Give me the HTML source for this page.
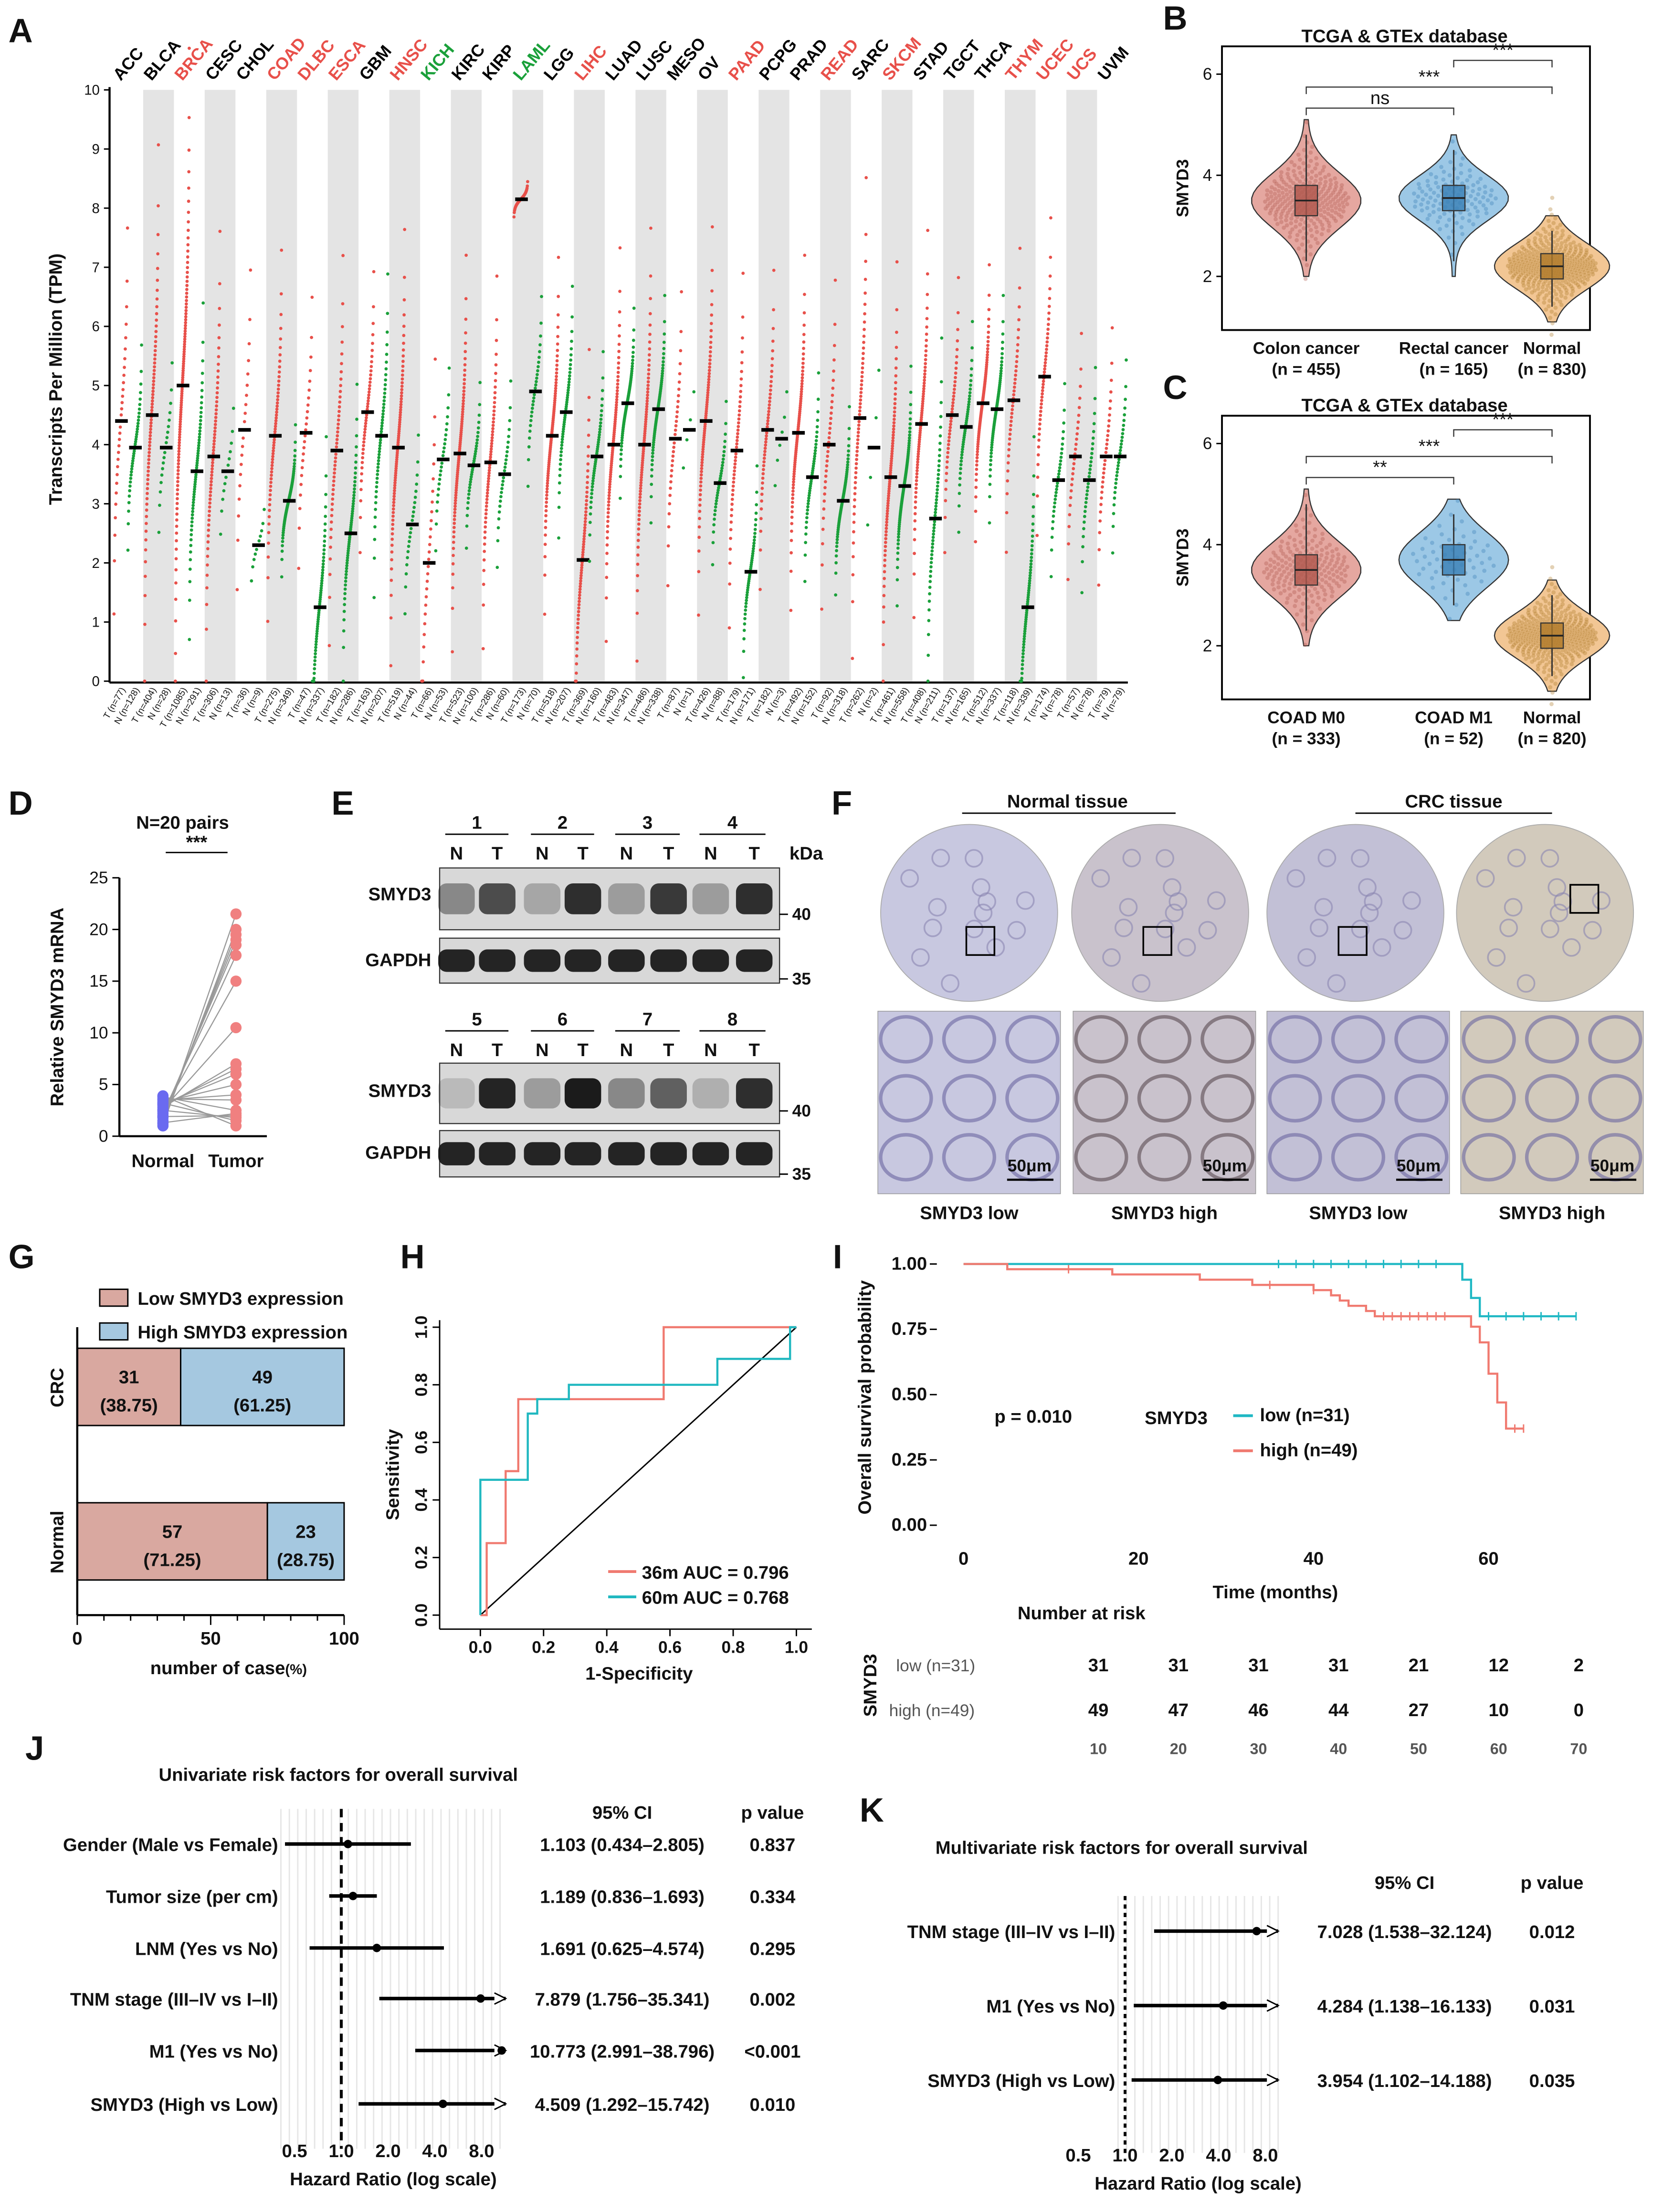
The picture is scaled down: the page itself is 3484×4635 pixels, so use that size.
<!DOCTYPE html>
<html><head><meta charset="utf-8"><style>
html,body{margin:0;padding:0;background:#fff}
svg{display:block;font-family:"Liberation Sans",Arial,sans-serif}
</style></head><body>
<svg id="s" xmlns="http://www.w3.org/2000/svg" width="3484" height="4635" viewBox="0 0 1184 1575" preserveAspectRatio="none"></svg>
<script>
// ---------- Panel A data ----------
const cancers=["ACC","BLCA","BRCA","CESC","CHOL","COAD","DLBC","ESCA","GBM","HNSC","KICH","KIRC","KIRP","LAML","LGG","LIHC","LUAD","LUSC","MESO","OV","PAAD","PCPG","PRAD","READ","SARC","SKCM","STAD","TGCT","THCA","THYM","UCEC","UCS","UVM"];
const cancerColor=["k","k","r","k","k","r","r","r","k","r","g","k","k","g","k","r","k","k","k","k","r","k","k","r","k","r","k","k","k","r","r","r","k"];
const tumorMed=[4.4,4.5,5.0,3.8,4.25,4.15,4.2,3.9,4.55,3.95,2.0,3.85,3.7,8.15,4.15,2.05,4.0,4.0,4.1,4.4,3.9,4.25,4.2,4.0,4.45,3.45,4.35,4.5,4.7,4.75,5.15,3.8,3.8];
const normalMed=[3.95,3.95,3.55,3.55,2.3,3.05,1.25,2.5,4.15,2.65,3.75,3.65,3.5,4.9,4.55,3.8,4.7,4.6,4.25,3.35,1.85,4.1,3.45,3.05,3.95,3.3,2.75,4.3,4.6,1.25,3.4,3.4,3.8];
const tumorSpread=[1.2,1.4,1.6,1.2,1.1,1.0,0.9,1.1,0.8,1.1,1.3,1.0,1.0,0.1,0.9,1.1,1.0,1.1,0.9,1.0,1.0,0.9,0.9,1.0,1.3,1.1,1.0,0.8,0.7,0.9,0.9,0.8,0.8];
const normalSpread=[0.6,0.6,0.9,0.5,0.3,0.4,0.9,0.8,0.9,0.6,0.6,0.5,0.6,0.6,0.7,0.6,0.5,0.6,0.5,0.5,0.6,0.5,0.6,0.5,0.9,0.6,1.0,0.6,0.6,0.9,0.6,0.7,0.6];
const tumorN=[77,404,1085,306,36,275,47,182,163,519,66,523,286,173,518,369,483,486,87,426,179,182,492,92,262,461,408,137,512,118,174,57,79];
const normalN=[128,28,291,13,9,349,337,286,207,44,53,100,60,70,207,160,347,338,1,88,171,3,152,318,2,558,211,165,337,339,78,78,79];
const aTicks=[0,1,2,3,4,5,6,7,8,9,10];
// ---------- Panel B/C data ----------
const bGroups=["Colon cancer","Rectal cancer","Normal"];
const bNs=[455,165,830];
const bMed=[3.5,3.55,2.2];const bQ1=[3.2,3.3,1.95];const bQ3=[3.8,3.8,2.45];const bMin=[2.0,2.0,1.1];const bMax=[5.1,4.8,3.2];
const cGroups=["COAD M0","COAD M1","Normal"];
const cNs=[333,52,820];
const cMed=[3.5,3.7,2.2];const cQ1=[3.2,3.4,1.95];const cQ3=[3.8,4.0,2.45];const cMin=[2.0,2.5,1.1];const cMax=[5.1,4.9,3.3];
const bcTicks=[2,4,6];
// ---------- Panel D data ----------
const dNormal=[1,1.2,1.5,1.8,2,2.2,2.4,2.6,2.8,3,3.1,3.3,3.5,3.6,3.8,1.3,1.9,2.5,3.2,3.9];
const dTumor=[21.5,20,19.5,19,18.5,17.5,15,10.5,7,6.5,6,5,4,3.5,2.5,2.2,2,1.8,1.5,1];
const dTicks=[0,5,10,15,20,25];
// ---------- Panel G data ----------
const gGroups=["CRC","Normal"];const gLowN=[31,57];const gLowPct=[38.75,71.25];const gHighN=[49,23];const gHighPct=[61.25,28.75];
const gTicks=[0,50,100];
// ---------- Panel H data ----------
const roc36x=[0,0.02,0.02,0.08,0.08,0.12,0.12,0.58,0.58,1.0,1.0];
const roc36y=[0,0,0.25,0.25,0.5,0.5,0.75,0.75,1.0,1.0,1.0];
const roc60x=[0,0,0.15,0.15,0.18,0.18,0.28,0.28,0.75,0.75,0.98,0.98,1.0];
const roc60y=[0,0.47,0.47,0.7,0.7,0.75,0.75,0.8,0.8,0.89,0.89,1.0,1.0];
const hTicks=[0,0.2,0.4,0.6,0.8,1.0];
// ---------- Panel I data ----------
const kmLowT=[0,57,57,58,58,59,59,70];
const kmLowS=[1,1,0.94,0.94,0.87,0.87,0.80,0.80];
const kmHighT=[0,5,5,17,17,27,27,33,33,40,40,42,42,43,43,44,44,46,46,47,47,58,58,59,59,60,60,61,61,62,62,64];
const kmHighS=[1,1,0.98,0.98,0.96,0.96,0.94,0.94,0.92,0.92,0.90,0.90,0.88,0.88,0.86,0.86,0.84,0.84,0.82,0.82,0.80,0.80,0.76,0.76,0.70,0.70,0.58,0.58,0.47,0.47,0.37,0.37];
const censLow=[36,38,40,42,44,46,48,50,52,54,60,62,64,66,68,70];
const censHigh=[12,35,40,48,49,50,51,52,53,54,55,63,64];
const iXTicks=[0,20,40,60];const iYTicks=[0,0.25,0.5,0.75,1.0];
const riskTimes=[10,20,30,40,50,60,70];const riskLow=[31,31,31,31,21,12,2];const riskHigh=[49,47,46,44,27,10,0];
// ---------- Panel J/K data ----------
const jLabels=["Gender (Male vs Female)","Tumor size (per cm)","LNM (Yes vs No)","TNM stage (III–IV vs I–II)","M1 (Yes vs No)","SMYD3 (High vs Low)"];
const jHR=[1.103,1.189,1.691,7.879,10.773,4.509];const jLo=[0.434,0.836,0.625,1.756,2.991,1.292];const jHi=[2.805,1.693,4.574,35.341,38.796,15.742];
const jP=["0.837","0.334","0.295","0.002","<0.001","0.010"];
const kLabels=["TNM stage (III–IV vs I–II)","M1 (Yes vs No)","SMYD3 (High vs Low)"];
const kHR=[7.028,4.284,3.954];const kLo=[1.538,1.138,1.102];const kHi=[32.124,16.133,14.188];const kP=["0.012","0.031","0.035"];
const forestTicks=[0.5,1.0,2.0,4.0,8.0];

// ---------- helpers ----------
const S=document.getElementById('s');const NS="http://www.w3.org/2000/svg";
function el(tag,at,parent){const e=document.createElementNS(NS,tag);for(const k in at)e.setAttribute(k,at[k]);(parent||S).appendChild(e);return e;}
function tx(x,y,t,at,parent){const e=el('text',Object.assign({x:x,y:y,'font-size':13,'fill':'#111'},at||{}),parent);e.textContent=t;return e;}
function grp(name){const g=el('g',{});return g;}
function panelLetter(x,y,t){const e=tx(x,y,t,{'font-size':24,'font-weight':'bold'});}
function qz(q){const a=Math.log(q/(1-q));return a*0.5513;}

// ================= Panel A =================
panelLetter(6,30,"A");
(function(){
 const g=grp('panel-a-tpm-chart');
 const x0=80,x1=803,y0=485,ppu=42.1;
 const bw=(x1-x0)/cancers.length;
 const ys=v=>y0-v*ppu;
 cancers.forEach((c,i)=>{
  if(i%2==1){const r=el('rect',{x:x0+i*bw,y:64,width:bw,height:y0-64,fill:'#e4e4e4'},g);}
 });
 el('line',{x1:x0-2,y1:62,x2:x0-2,y2:y0+1,stroke:'#000','stroke-width':1.5},g);
 el('line',{x1:x0-2,y1:y0+1,x2:x1,y2:y0+1,stroke:'#000','stroke-width':1.5},g);
 aTicks.forEach(v=>{el('line',{x1:x0-6,y1:ys(v),x2:x0-2,y2:ys(v),stroke:'#000'},g);const t=tx(x0-9,ys(v)+3.5,String(v),{'font-size':10,'text-anchor':'end'},g);});
 const yt=tx(0,0,"Transcripts Per Million (TPM)",{'font-size':13,'font-weight':'bold','text-anchor':'middle',transform:'translate(44,270) rotate(-90)'},g);
 
 const cols={k:'#000',r:'#e8504a',g:'#1aa03a'};
 cancers.forEach((c,i)=>{
  const bx=x0+i*bw;
  const lab=tx(0,0,c,{'font-size':12,'font-weight':'bold',fill:cols[cancerColor[i]],transform:`translate(${bx+6},58) rotate(-50)`},g);
  
  [[tumorMed[i],tumorSpread[i],'#e8504a',bx+1,'T',tumorN[i]],[normalMed[i],normalSpread[i],'#1aa03a',bx+bw/2,'N',normalN[i]]].forEach((d,k)=>{
   const [m,sp,col,sx,lt,n]=d;const cnt=Math.max(4,Math.min(110,Math.round(Math.sqrt(n)*3.5)));
   const cg=el('g',{fill:col},g);
   for(let j=0;j<cnt;j++){const q=(j+0.5)/cnt;const v=Math.max(0,m+sp*qz(q)*1.2);el('circle',{cx:sx+q*(bw/2-1),cy:ys(v),r:1.15},cg);}
   const mb=el('rect',{x:sx+bw/4-4.5,y:ys(m)-1.3,width:9,height:2.6,fill:'#000'},g);
   tx(0,0,`${lt} (n=${n})`,{'font-size':6.5,transform:`translate(${sx+bw/4+3},491) rotate(-60)`,'text-anchor':'end'},g);
  });
 });
})();

// ================= Panel B & C =================
function violinPanel(letter,top,groups,ns,med,q1,q3,mn,mx,sig){
 panelLetter(828,top-4,letter);
 const g=grp('panel-'+letter.toLowerCase()+'-violin-chart');
 const L=870,R=1132,T=top+8,B=top+210;
 el('rect',{x:L,y:T,width:R-L,height:B-T,fill:'none',stroke:'#000','stroke-width':1.3},g);
 tx(1000,top+5,"TCGA & GTEx database",{'font-size':13,'font-weight':'bold','text-anchor':'middle'},g);
 const ys=v=>T+(6.55-v)*36;
 bcTicks.forEach(v=>{el('line',{x1:L-4,y1:ys(v),x2:L,y2:ys(v),stroke:'#000'},g);tx(L-7,ys(v)+4,String(v),{'font-size':12,'text-anchor':'end'},g);});
 tx(0,0,"SMYD3",{'font-size':12,'font-weight':'bold','text-anchor':'middle',transform:`translate(${L-24},${(T+B)/2}) rotate(-90)`},g);
 const xs=[930,1035,1105];const fills=['#e5a7a0','#9cc8e6','#f2c694'];const dots=['#b0584e','#3a7fb5','#b07a2a'];
 groups.forEach((gname,i)=>{
  const cx=xs[i];const hw=i==2?40:38;
  const steps=30;const pts=[];
  for(let j=0;j<=steps;j++){const v=mn[i]+(mx[i]-mn[i])*j/steps;const z=(v-med[i])/((q3[i]-q1[i])*0.9);const w=hw*Math.exp(-z*z/2)+1;pts.push([w,ys(v)]);}
  const p='M'+pts.map(a=>(cx+a[0])+','+a[1]).join(' L')+' L'+pts.slice().reverse().map(a=>(cx-a[0])+','+a[1]).join(' L')+'Z';
  const v=el('path',{d:p,fill:fills[i],stroke:'#333','stroke-width':0.8},g);
  const dg=el('g',{fill:dots[i],'fill-opacity':0.35},g);
  const nd=Math.min(350,Math.round(ns[i]/2)+30);
  for(let j=0;j<nd;j++){const q=(j+0.5)/nd;const vv=med[i]+(q3[i]-q1[i])*0.75*qz(q);const f=((j*0.618034)%1)*2-1;const z=(vv-med[i])/((q3[i]-q1[i])*0.9);const w=hw*Math.exp(-z*z/2)*0.8;el('circle',{cx:cx+f*w,cy:ys(vv),r:1.5},dg);}
  el('line',{x1:cx,y1:ys(mn[i]+0.3),x2:cx,y2:ys(mx[i]-0.3),stroke:'#333'},g);
  el('rect',{x:cx-8,y:ys(q3[i]),width:16,height:ys(q1[i])-ys(q3[i]),fill:dots[i],'fill-opacity':0.8,stroke:'#333','stroke-width':0.8},g);
  el('line',{x1:cx-8,y1:ys(med[i]),x2:cx+8,y2:ys(med[i]),stroke:'#222','stroke-width':1.2},g);
  tx(cx,B+17,gname,{'font-size':12,'font-weight':'bold','text-anchor':'middle'},g);
  tx(cx,B+32,`(n = ${ns[i]})`,{'font-size':12,'font-weight':'bold','text-anchor':'middle'},g);
 });
 sig.forEach(s=>{const [a,b,y,lab]=s;el('path',{d:`M${xs[a]},${y+5} V${y} H${xs[b]} V${y+5}`,fill:'none',stroke:'#333','stroke-width':0.8},g);tx((xs[a]+xs[b])/2,y-3,lab,{'font-size':13,'text-anchor':'middle'},g);});
}
violinPanel('B',25,bGroups,bNs,bMed,bQ1,bQ3,bMin,bMax,[[0,1,77,'ns'],[0,2,62,'***'],[1,2,43,'***']]);
violinPanel('C',288,cGroups,cNs,cMed,cQ1,cQ3,cMin,cMax,[[0,1,340,'**'],[0,2,325,'***'],[1,2,306,'***']]);

// ================= Panel D =================
panelLetter(6,580,"D");
(function(){
 const g=grp('panel-d-paired-chart');
 const x0=85,y0=809,ppu=7.36;const ys=v=>y0-v*ppu;
 tx(130,590,"N=20 pairs",{'font-size':13,'font-weight':'bold','text-anchor':'middle'},g);
 el('line',{x1:118,y1:607,x2:162,y2:607,stroke:'#000'},g);tx(140,604,"***",{'font-size':13,'font-weight':'bold','text-anchor':'middle'},g);
 el('line',{x1:x0,y1:ys(25),x2:x0,y2:y0,stroke:'#000','stroke-width':1.5},g);
 el('line',{x1:x0,y1:y0,x2:190,y2:y0,stroke:'#000','stroke-width':1.5},g);
 dTicks.forEach(v=>{el('line',{x1:x0-5,y1:ys(v),x2:x0,y2:ys(v),stroke:'#000'},g);tx(x0-8,ys(v)+4,String(v),{'font-size':12,'text-anchor':'end'},g);});
 tx(0,0,"Relative  SMYD3 mRNA",{'font-size':13,'font-weight':'bold','text-anchor':'middle',transform:`translate(45,${ys(12.5)}) rotate(-90)`},g);
 dNormal.forEach((v,i)=>{el('line',{x1:116,y1:ys(v),x2:168,y2:ys(dTumor[i]),stroke:'#999','stroke-width':0.8},g);});
 dNormal.forEach(v=>{const c=el('circle',{cx:116,cy:ys(v),r:4,fill:'#6a6af0'},g);});
 dTumor.forEach(v=>{const c=el('circle',{cx:168,cy:ys(v),r:4,fill:'#f08080'},g);});
 tx(116,831,"Normal",{'font-size':13,'font-weight':'bold','text-anchor':'middle'},g);
 tx(168,831,"Tumor",{'font-size':13,'font-weight':'bold','text-anchor':'middle'},g);
})();

// ================= Panel E =================
panelLetter(236,580,"E");
(function(){
 const g=grp('panel-e-western-blot');
 const lanes=[325,354,386,415,446,476,506,537];
 function blot(y,h,intens,name){
  const r=el('rect',{x:313,y:y,width:242,height:h,fill:'#d8d8d8',stroke:'#333','stroke-width':0.8},g);
  lanes.forEach((lx,i)=>{el('rect',{x:lx-13,y:y+h*0.25,width:26,height:h*0.5,rx:6,fill:'#111','fill-opacity':intens[i]},g);});
 }
 [[1,0],[2,1],[3,2],[4,3]].forEach(a=>{tx((lanes[a[1]*2]+lanes[a[1]*2+1])/2,590,String(a[0]),{'font-size':13,'font-weight':'bold','text-anchor':'middle'},g);el('line',{x1:lanes[a[1]*2]-8,y1:594,x2:lanes[a[1]*2+1]+8,y2:594,stroke:'#000'},g);});
 [[5,0],[6,1],[7,2],[8,3]].forEach(a=>{tx((lanes[a[1]*2]+lanes[a[1]*2+1])/2,730,String(a[0]),{'font-size':13,'font-weight':'bold','text-anchor':'middle'},g);el('line',{x1:lanes[a[1]*2]-8,y1:734,x2:lanes[a[1]*2+1]+8,y2:734,stroke:'#000'},g);});
 lanes.forEach((lx,i)=>{tx(lx,612,i%2?'T':'N',{'font-size':13,'font-weight':'bold','text-anchor':'middle'},g);tx(lx,752,i%2?'T':'N',{'font-size':13,'font-weight':'bold','text-anchor':'middle'},g);});
 tx(574,612,"kDa",{'font-size':13,'font-weight':'bold','text-anchor':'middle'},g);
 blot(618,44,[0.4,0.7,0.25,0.85,0.3,0.8,0.3,0.85],'smyd3-blot-1');blot(668,32,[0.9,0.9,0.9,0.9,0.9,0.9,0.9,0.9],'gapdh-blot-1');
 blot(757,43,[0.15,0.9,0.3,0.95,0.4,0.6,0.2,0.85],'smyd3-blot-2');blot(805,33,[0.9,0.9,0.9,0.9,0.9,0.9,0.9,0.9],'gapdh-blot-2');
 [['SMYD3',641],['GAPDH',688],['SMYD3',781],['GAPDH',825]].forEach(a=>tx(307,a[1],a[0],{'font-size':13,'font-weight':'bold','text-anchor':'end'},g));
 [['40',655],['35',701],['40',795],['35',840]].forEach(a=>{el('line',{x1:555,y1:a[1]-4,x2:561,y2:a[1]-4,stroke:'#000'},g);tx(564,a[1],a[0],{'font-size':12,'font-weight':'bold'},g);});
})();

// ================= Panel F =================
panelLetter(592,580,"F");
(function(){
 const g=grp('panel-f-ihc-images');
 tx(760,575,"Normal tissue",{'font-size':13,'font-weight':'bold','text-anchor':'middle'},g);el('line',{x1:685,y1:579,x2:837,y2:579,stroke:'#000'},g);
 tx(1035,575,"CRC tissue",{'font-size':13,'font-weight':'bold','text-anchor':'middle'},g);el('line',{x1:965,y1:579,x2:1105,y2:579,stroke:'#000'},g);
 const cx=[690,826,965,1100];const tint=['#c8c8e0','#c9c2cc','#c2c0d6','#d2cabc'];
 const bx=[625,764,902,1040];const labs=["SMYD3 low","SMYD3 high","SMYD3 low","SMYD3 high"];
 cx.forEach((c,i)=>{
  const e=el('circle',{cx:c,cy:650,r:63,fill:tint[i],stroke:'#aaa','stroke-width':0.6},g);
  for(let k=0;k<14;k++){const a=k*2.4,rr=10+((k*37)%45);el('circle',{cx:c+rr*Math.cos(a),cy:650+rr*Math.sin(a),r:6,fill:'none',stroke:'#8a86b0','stroke-width':1.2,'stroke-opacity':0.6},g);}
  el('rect',{x:c-12+(i==0?10:i==3?30:0),y:i==0?660:i==3?630:660,width:20,height:20,fill:'none',stroke:'#000','stroke-width':1.2},g);
  const r=el('rect',{x:bx[i],y:720,width:130,height:130,fill:tint[i],stroke:'#999','stroke-width':0.5},g);
  for(let k=0;k<9;k++){const xx=bx[i]+20+(k%3)*45,yy=740+Math.floor(k/3)*42;el('ellipse',{cx:xx,cy:yy,rx:18,ry:16,fill:'none',stroke:i==1?'#5a4a50':'#6a66a0','stroke-width':2.5,'stroke-opacity':0.6},g);}
  el('line',{x1:bx[i]+92,y1:840,x2:bx[i]+125,y2:840,stroke:'#000','stroke-width':1.5},g);
  tx(bx[i]+108,834,"50μm",{'font-size':12,'font-weight':'bold','text-anchor':'middle'},g);
  tx(bx[i]+65,868,labs[i],{'font-size':13,'font-weight':'bold','text-anchor':'middle'},g);
 });
})();

// ================= Panel G =================
panelLetter(6,903,"G");
(function(){
 const g=grp('panel-g-stacked-bar');
 const x0=55,x1=245;const xs=v=>x0+(x1-x0)*v/100;
 const lg1=el('rect',{x:71,y:918,width:20,height:12,fill:'#d9a8a0',stroke:'#000'},g);
 tx(98,929,"Low SMYD3 expression",{'font-size':13,'font-weight':'bold'},g);
 const lg2=el('rect',{x:71,y:942,width:20,height:12,fill:'#a5c8e0',stroke:'#000'},g);
 tx(98,953,"High SMYD3 expression",{'font-size':13,'font-weight':'bold'},g);
 const ys=[960,1070];
 gGroups.forEach((n,i)=>{
  const a=el('rect',{x:x0,y:ys[i],width:xs(gLowPct[i])-x0,height:55,fill:'#d9a8a0',stroke:'#000'},g);
  const b=el('rect',{x:xs(gLowPct[i]),y:ys[i],width:x1-xs(gLowPct[i]),height:55,fill:'#a5c8e0',stroke:'#000'},g);
  const m1=(x0+xs(gLowPct[i]))/2,m2=(xs(gLowPct[i])+x1)/2;
  tx(m1,ys[i]+25,String(gLowN[i]),{'font-size':13,'font-weight':'bold','text-anchor':'middle'},g);tx(m1,ys[i]+45,`(${gLowPct[i].toFixed(2)})`,{'font-size':13,'font-weight':'bold','text-anchor':'middle'},g);
  tx(m2,ys[i]+25,String(gHighN[i]),{'font-size':13,'font-weight':'bold','text-anchor':'middle'},g);tx(m2,ys[i]+45,`(${gHighPct[i].toFixed(2)})`,{'font-size':13,'font-weight':'bold','text-anchor':'middle'},g);
  tx(0,0,n,{'font-size':13,'font-weight':'bold','text-anchor':'middle',transform:`translate(45,${ys[i]+28}) rotate(-90)`},g);
 });
 el('line',{x1:x0,y1:945,x2:x0,y2:1150,stroke:'#000','stroke-width':1.5},g);
 el('line',{x1:x0,y1:1150,x2:x1,y2:1150,stroke:'#000','stroke-width':1.5},g);
 for(let v=0;v<=100;v+=10){el('line',{x1:xs(v),y1:1150,x2:xs(v),y2:v%50?1154:1157,stroke:'#000'},g);}
 gTicks.forEach(v=>tx(xs(v),1171,String(v),{'font-size':13,'font-weight':'bold','text-anchor':'middle'},g));
 tx(155,1192,"number of case",{'font-size':13,'font-weight':'bold','text-anchor':'middle'},g);tx(203,1192,"(%)",{'font-size':10,'font-weight':'bold'},g);
})();

// ================= Panel H =================
panelLetter(285,903,"H");
(function(){
 const g=grp('panel-h-roc-chart');
 const X=v=>342+v*225,Y=v=>1150-v*205;
 el('line',{x1:313,y1:940,x2:313,y2:1160,stroke:'#000'},g);el('line',{x1:313,y1:1160,x2:578,y2:1160,stroke:'#000'},g);
 hTicks.forEach(v=>{el('line',{x1:X(v),y1:1160,x2:X(v),y2:1165,stroke:'#000'},g);tx(X(v),1177,v.toFixed(1),{'font-size':12,'font-weight':'bold','text-anchor':'middle'},g);
  el('line',{x1:308,y1:Y(v),x2:313,y2:Y(v),stroke:'#000'},g);tx(0,0,v.toFixed(1),{'font-size':12,'font-weight':'bold','text-anchor':'middle',transform:`translate(304,${Y(v)}) rotate(-90)`},g);});
 tx(455,1196,"1-Specificity",{'font-size':13,'font-weight':'bold','text-anchor':'middle'},g);
 tx(0,0,"Sensitivity",{'font-size':13,'font-weight':'bold','text-anchor':'middle',transform:`translate(284,1050) rotate(-90)`},g);
 el('line',{x1:X(0),y1:Y(0),x2:X(1),y2:Y(1),stroke:'#000'},g);
 const p1=el('polyline',{points:roc36x.map((v,i)=>X(v)+','+Y(roc36y[i])).join(' '),fill:'none',stroke:'#f07a70','stroke-width':1.5},g);
 const p2=el('polyline',{points:roc60x.map((v,i)=>X(v)+','+Y(roc60y[i])).join(' '),fill:'none',stroke:'#20b8c0','stroke-width':1.5},g);
 el('line',{x1:433,y1:1119,x2:453,y2:1119,stroke:'#f07a70','stroke-width':2},g);tx(457,1124,"36m AUC = 0.796",{'font-size':13,'font-weight':'bold'},g);
 el('line',{x1:433,y1:1137,x2:453,y2:1137,stroke:'#20b8c0','stroke-width':2},g);tx(457,1142,"60m AUC = 0.768",{'font-size':13,'font-weight':'bold'},g);
})();

// ================= Panel I =================
panelLetter(593,903,"I");
(function(){
 const g=grp('panel-i-km-chart');
 const X=t=>686+t*6.23,Y=s=>1086-s*186;
 iYTicks.forEach(v=>{el('line',{x1:662,y1:Y(v),x2:667,y2:Y(v),stroke:'#000'},g);tx(660,Y(v)+4,v.toFixed(2),{'font-size':13,'font-weight':'bold','text-anchor':'end'},g);});
 iXTicks.forEach(v=>tx(X(v),1114,String(v),{'font-size':13,'font-weight':'bold','text-anchor':'middle'},g));
 tx(908,1138,"Time (months)",{'font-size':13,'font-weight':'bold','text-anchor':'middle'},g);
 tx(0,0,"Overall survival probability",{'font-size':13,'font-weight':'bold','text-anchor':'middle',transform:`translate(620,995) rotate(-90)`},g);
 const l1=el('polyline',{points:kmLowT.map((t,i)=>X(t)+','+Y(kmLowS[i])).join(' '),fill:'none',stroke:'#1fb8c4','stroke-width':1.5},g);
 const l2=el('polyline',{points:kmHighT.map((t,i)=>X(t)+','+Y(kmHighS[i])).join(' '),fill:'none',stroke:'#f07a70','stroke-width':1.5},g);
 function sAt(T,Sv,t){let s=1;for(let i=0;i<T.length;i++){if(T[i]<=t)s=Sv[i];}return s;}
 censLow.forEach(t=>el('line',{x1:X(t),y1:Y(sAt(kmLowT,kmLowS,t))-3,x2:X(t),y2:Y(sAt(kmLowT,kmLowS,t))+3,stroke:'#1fb8c4'},g));
 censHigh.forEach(t=>el('line',{x1:X(t),y1:Y(sAt(kmHighT,kmHighS,t))-3,x2:X(t),y2:Y(sAt(kmHighT,kmHighS,t))+3,stroke:'#f07a70'},g));
 tx(708,1013,"p = 0.010",{'font-size':13,'font-weight':'bold'},g);tx(815,1014,"SMYD3",{'font-size':13,'font-weight':'bold'},g);
 el('line',{x1:878,y1:1008,x2:892,y2:1008,stroke:'#1fb8c4','stroke-width':2},g);tx(897,1012,"low (n=31)",{'font-size':13,'font-weight':'bold'},g);
 el('line',{x1:878,y1:1033,x2:892,y2:1033,stroke:'#f07a70','stroke-width':2},g);tx(897,1037,"high (n=49)",{'font-size':13,'font-weight':'bold'},g);
 tx(770,1153,"Number at risk",{'font-size':13,'font-weight':'bold','text-anchor':'middle'},g);
 const RX=t=>782+(t-10)*5.7;
 tx(0,0,"SMYD3",{'font-size':13,'font-weight':'bold','text-anchor':'middle',transform:`translate(624,1200) rotate(-90)`},g);
 tx(638,1190,"low (n=31)",{'font-size':12,'fill':'#555'},g);tx(633,1222,"high (n=49)",{'font-size':12,'fill':'#555'},g);
 riskTimes.forEach((t,i)=>{tx(RX(t),1190,String(riskLow[i]),{'font-size':13,'font-weight':'bold','text-anchor':'middle'},g);tx(RX(t),1222,String(riskHigh[i]),{'font-size':13,'font-weight':'bold','text-anchor':'middle'},g);tx(RX(t),1249,String(t),{'font-size':11,'font-weight':'bold','fill':'#555','text-anchor':'middle'},g);});
})();

// ================= Panel J & K forest =================
function forest(letter,lx,ly,title,labels,hr,lo,hi,pv,rows,X0,xMin,xMax,dash,colCI,colP,headY,axY){
 panelLetter(lx,ly,letter);
 const g=grp('panel-'+letter.toLowerCase()+'-forest-plot');
 const X=v=>X0+Math.log2(v)*33.3;
 tx(title[1],title[2],title[0],{'font-size':13,'font-weight':'bold'},g);
 tx(colCI,headY,"95% CI",{'font-size':13,'font-weight':'bold','text-anchor':'middle'},g);tx(colP,headY,"p value",{'font-size':13,'font-weight':'bold','text-anchor':'middle'},g);
 for(let v=xMin;v<=xMax;v+=6)el('line',{x1:v,y1:rows[0]-25,x2:v,y2:axY,stroke:'#e6e6e6','stroke-width':1},g);
 el('line',{x1:X(1),y1:rows[0]-25,x2:X(1),y2:axY,stroke:'#000','stroke-width':2,'stroke-dasharray':dash},g);
 forestTicks.forEach(v=>tx(X(v),axY+6,v.toFixed(1),{'font-size':13,'font-weight':'bold','text-anchor':'middle'},g));
 tx((xMin+xMax)/2,axY+26,"Hazard Ratio (log scale)",{'font-size':13,'font-weight':'bold','text-anchor':'middle'},g);
 labels.forEach((l,i)=>{
  const y=rows[i];
  tx(xMin-2,y+5,l,{'font-size':13,'font-weight':'bold','text-anchor':'end'},g);
  const a=Math.max(X(lo[i]),xMin),b=Math.min(X(hi[i]),xMax);
  const ln=el('line',{x1:a,y1:y,x2:b,y2:y,stroke:'#000','stroke-width':2.5},g);
  if(X(hi[i])>xMax)el('path',{d:`M${xMax-8},${y-4} L${xMax},${y} L${xMax-8},${y+4}`,fill:'#fff',stroke:'#000','stroke-width':1},g);
  const c=el('circle',{cx:Math.min(X(hr[i]),xMax-2),cy:y,r:3,fill:'#000'},g);
  tx(colCI,y+5,`${hr[i]} (${lo[i]}–${hi[i]})`,{'font-size':13,'font-weight':'bold','text-anchor':'middle'},g);
  tx(colP,y+5,pv[i],{'font-size':13,'font-weight':'bold','text-anchor':'middle'},g);
 });
}
forest('J',18,1253,["Univariate risk factors for overall survival",113,1268],jLabels,jHR,jLo,jHi,jP,[1313,1350,1387,1423,1460,1498],243,200,360,'6,4',443,550,1295,1530);
forest('K',612,1297,["Multivariate risk factors for overall survival",666,1320],kLabels,kHR,kLo,kHi,kP,[1375,1428,1481],801,796,910,'3,3',1000,1105,1345,1533);
</script>
</body></html>
